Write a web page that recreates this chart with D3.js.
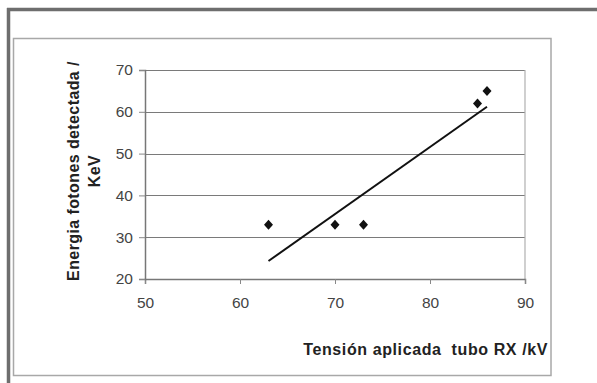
<!DOCTYPE html>
<html>
<head>
<meta charset="utf-8">
<script src="https://cdn.jsdelivr.net/npm/d3@7"></script>
<style>
  html, body { margin: 0; padding: 0; background: #fff; }
  svg { display: block; }
  text { font-family: "Liberation Sans", Arial, sans-serif; }
</style>
</head>
<body>
<script>
// Data
const tensionKV = [63, 70, 73, 85, 86];
const energiaKeV = [33, 33, 33, 62, 65];
const trendX = [63, 86];
const trendY = [24.3, 61.2];
const xTicks = [50, 60, 70, 80, 90];
const yTicks = [20, 30, 40, 50, 60, 70];
const xTitle = "Tensión aplicada  tubo RX /kV";
const yTitleLines = ["Energia fotones detectada /", "KeV"];

const W = 597, H = 383;
const svg = d3.select("body").append("svg").attr("width", W).attr("height", H);

// outer scan frame
svg.append("line").attr("x1", 7).attr("x2", W).attr("y1", 9.5).attr("y2", 9.5)
  .attr("stroke", "#6e6e6e").attr("stroke-width", 3.5);
svg.append("line").attr("x1", 8.5).attr("x2", 8.5).attr("y1", 8).attr("y2", H)
  .attr("stroke", "#6e6e6e").attr("stroke-width", 3.5);

// chart box
svg.append("rect").attr("x", 13.5).attr("y", 38.5).attr("width", 537.5).attr("height", 337)
  .attr("fill", "none").attr("stroke", "#a8a8a8").attr("stroke-width", 1.5);

const x = d3.scaleLinear().domain([50, 90]).range([145, 525]);
const y = d3.scaleLinear().domain([20, 70]).range([279, 70]);

// gridlines
svg.append("g").selectAll("line").data(yTicks.filter(d => d > 20)).join("line")
  .attr("x1", x(50)).attr("x2", x(90))
  .attr("y1", d => Math.round(y(d)) + 0.5).attr("y2", d => Math.round(y(d)) + 0.5)
  .attr("stroke", "#7a7a7a").attr("stroke-width", 1.2);

// right border of plot
svg.append("line").attr("x1", x(90)).attr("x2", x(90)).attr("y1", y(70)).attr("y2", y(20))
  .attr("stroke", "#b0b0b0").attr("stroke-width", 1.2);

// axes
const xAxis = d3.axisBottom(x).tickValues(xTicks).tickSize(5).tickPadding(13).tickFormat(d3.format("d"));
const yAxis = d3.axisLeft(y).tickValues(yTicks).tickSize(6).tickPadding(6).tickFormat(d3.format("d"));

const gx = svg.append("g").attr("transform", `translate(0,${y(20)})`).call(xAxis);
const gy = svg.append("g").attr("transform", `translate(${x(50)},0)`).call(yAxis);
[gx, gy].forEach(g => {
  g.select(".domain").attr("stroke", "#777").attr("stroke-width", 1.5);
  g.selectAll(".tick line").attr("stroke", "#888").attr("stroke-width", 1);
  g.selectAll(".tick text").attr("fill", "#444").attr("font-size", 15.5)
    .attr("font-family", "'Liberation Sans', Arial, sans-serif");
});

// trend line
svg.append("line")
  .attr("x1", x(trendX[0])).attr("y1", y(trendY[0]))
  .attr("x2", x(trendX[1])).attr("y2", y(trendY[1]))
  .attr("stroke", "#111").attr("stroke-width", 2);

// diamond markers
const pts = tensionKV.map((v, i) => [v, energiaKeV[i]]);
svg.append("g").selectAll("path").data(pts).join("path")
  .attr("transform", d => `translate(${x(d[0])},${y(d[1])})`)
  .attr("d", "M0,-5 L4.5,0 L0,5 L-4.5,0 Z")
  .attr("fill", "#111");

// axis titles
svg.append("text").attr("x", 548).attr("y", 355).attr("text-anchor", "end")
  .attr("font-size", 16).attr("font-weight", "bold").attr("fill", "#222")
  .attr("letter-spacing", 0.6)
  .style("white-space", "pre")
  .text(xTitle);

const yt = svg.append("text").attr("transform", "translate(0,171) rotate(-90)")
  .attr("text-anchor", "middle").attr("font-size", 16).attr("font-weight", "bold").attr("fill", "#222")
  .attr("letter-spacing", 0.4);
yt.selectAll("tspan").data(yTitleLines).join("tspan")
  .attr("x", 0).attr("y", (d, i) => 79 + i * 21).text(d => d);
</script>
</body>
</html>
